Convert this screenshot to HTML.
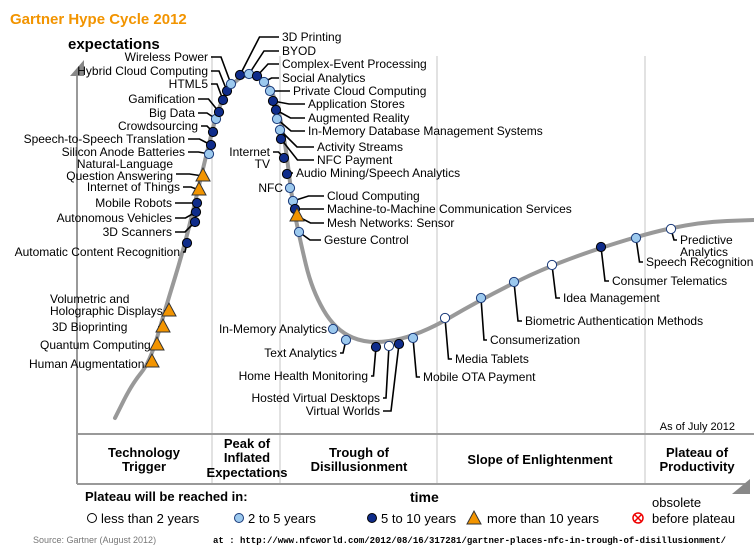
<!DOCTYPE html>
<html><head><meta charset="utf-8"><style>
body{margin:0;background:#fff;}
svg{display:block;font-family:"Liberation Sans",Arial,sans-serif;}
</style></head><body>
<svg id="c" width="754" height="556" viewBox="0 0 754 556">
<text x="10" y="24" font-size="15" font-weight="bold" fill="#f29400">Gartner Hype Cycle 2012</text>
<text x="68" y="49" font-size="15" font-weight="bold">expectations</text>
<line x1="77" y1="74" x2="77" y2="434" stroke="#999" stroke-width="2"/>
<polygon points="70,76 84,76 84,60" fill="#888"/>
<g stroke="#d8d8d8" stroke-width="1.5">
<line x1="212" y1="56" x2="212" y2="434"/><line x1="280" y1="56" x2="280" y2="434"/><line x1="437" y1="56" x2="437" y2="434"/><line x1="645" y1="56" x2="645" y2="434"/>
<line x1="212" y1="434" x2="212" y2="483"/><line x1="280" y1="434" x2="280" y2="483"/><line x1="437" y1="434" x2="437" y2="483"/><line x1="645" y1="434" x2="645" y2="483"/>
</g>
<line x1="77" y1="434" x2="754" y2="434" stroke="#999" stroke-width="2"/>
<line x1="77" y1="434" x2="77" y2="484" stroke="#999" stroke-width="2"/>
<line x1="77" y1="484" x2="745" y2="484" stroke="#999" stroke-width="2"/>
<polygon points="732,494 750,494 750,479" fill="#888"/>
<text x="735" y="430" font-size="11" text-anchor="end">As of July 2012</text>
<g font-size="13" font-weight="bold" text-anchor="middle">
<text x="144" y="457">Technology</text><text x="144" y="471">Trigger</text>
<text x="247" y="448">Peak of</text><text x="247" y="462">Inflated</text><text x="247" y="477">Expectations</text>
<text x="359" y="457">Trough of</text><text x="359" y="471">Disillusionment</text>
<text x="540" y="464">Slope of Enlightenment</text>
<text x="697" y="457">Plateau of</text><text x="697" y="471">Productivity</text>
</g>
<text x="85" y="501" font-size="13" font-weight="bold">Plateau will be reached in:</text>
<text x="410" y="502" font-size="14" font-weight="bold">time</text>
<g font-size="13">
<g><circle cx="92" cy="518" r="4.5" fill="#fff" stroke="#000"/><text x="101" y="523">less than 2 years</text></g>
<g><circle cx="239" cy="518" r="4.5" fill="#9cc9ee" stroke="#1a3a7a"/><text x="248" y="523">2 to 5 years</text></g>
<g><circle cx="372" cy="518" r="4.5" fill="#0f2c8a" stroke="#000"/><text x="381" y="523">5 to 10 years</text></g>
<g><polygon points="467,524 481,524 474,511" fill="#f29400" stroke="#333"/><text x="487" y="523">more than 10 years</text></g>
<g><circle cx="638" cy="518" r="5" fill="#fff" stroke="#e00" stroke-width="1.5"/><path d="M635,515 L641,521 M641,515 L635,521" stroke="#e00" stroke-width="1.5"/><text x="652" y="507">obsolete</text><text x="652" y="523">before plateau</text></g>
</g>
<text x="33" y="543" font-size="9" fill="#777">Source: Gartner (August 2012)</text>
<text x="213" y="543" font-size="9" font-weight="bold" font-family="Liberation Mono,monospace">at : http://www.nfcworld.com/2012/08/16/317281/gartner-places-nfc-in-trough-of-disillusionment/</text>
<g id="plot"></g>
</svg>
<script>
// time (px offset from axis) and expectation (px above baseline)
const curveT=[38,55,73,88,108,128,143,163,183,198,208,215,223,235,258,293,343,403,473,563,623,677];
const curveE=[16,50,72,124,189,274,334,359,359,339,294,234,194,144,104,89,99,134,169,199,212,214];
const names=["Human Augmentation","Quantum Computing","3D Bioprinting","Volumetric and Holographic Displays","Automatic Content Recognition","3D Scanners","Autonomous Vehicles","Mobile Robots","Internet of Things","Natural-Language Question Answering","Silicon Anode Batteries","Speech-to-Speech Translation","Crowdsourcing","Big Data","Gamification","HTML5","Hybrid Cloud Computing","Wireless Power","3D Printing","BYOD","Complex-Event Processing","Social Analytics","Private Cloud Computing","Application Stores","Augmented Reality","In-Memory Database Management Systems","Activity Streams","NFC Payment","Internet TV","Audio Mining/Speech Analytics","NFC","Cloud Computing","Machine-to-Machine Communication Services","Mesh Networks: Sensor","Gesture Control","In-Memory Analytics","Text Analytics","Home Health Monitoring","Hosted Virtual Desktops","Virtual Worlds","Mobile OTA Payment","Media Tablets","Consumerization","Biometric Authentication Methods","Idea Management","Consumer Telematics","Speech Recognition","Predictive Analytics"];
const timeVals=[75,80,86,92,110,118,119,120,122,126,132,134,136,139,142,146,150,154,163,172,180,187,193,196,199,200,203,204,207,210,213,216,218,220,222,256,269,299,312,322,336,368,404,437,475,524,559,594];
const expVals=[72,89,107,123,191,212,222,231,244,258,280,289,302,315,322,334,343,350,359,360,358,352,343,333,324,315,304,295,276,260,246,233,225,218,202,105,94,87,88,90,96,116,136,152,169,187,196,205];
const phase=["t","t","t","t","d","d","d","d","t","t","l","d","d","l","d","d","d","l","d","l","d","l","l","d","d","l","l","d","d","d","l","l","d","t","l","l","l","d","w","d","l","w","l","l","w","d","l","w"];
// label layout: [x, y, anchor, line2, leaderX, leaderY]
const lab=[[29,368,"start",null,146,364],[40,349,"start",null,153,345],[52,331,"start",null,158,327],[50,303,"start","Holographic Displays",164,311],[180,256,"end"],[172,236,"end"],[172,222,"end"],[172,207,"end"],[180,191,"end"],[173,168,"end","Question Answering"],[185,156,"end"],[185,143,"end"],[198,130,"end"],[195,117,"end"],[195,103,"end"],[208,88,"end"],[208,75,"end"],[208,61,"end"],[282,41,"start"],[282,55,"start"],[282,68,"start"],[282,82,"start"],[293,95,"start"],[308,108,"start"],[308,122,"start"],[308,135,"start"],[317,151,"start"],[317,164,"start"],[270,156,"end","TV"],[296,177,"start"],[283,192,"end"],[327,200,"start"],[327,213,"start"],[327,227,"start"],[324,244,"start"],[327,333,"end"],[337,357,"end"],[368,380,"end"],[380,402,"end"],[380,415,"end"],[423,381,"start"],[455,363,"start"],[490,344,"start"],[525,325,"start"],[563,302,"start"],[612,285,"start"],[646,266,"start"],[680,244,"start","Analytics"]];
const xS=t=>77+t, yS=e=>434-e;
const NS="http://www.w3.org/2000/svg";
const g=document.getElementById('plot');
function mk(tag,a,p){const e=document.createElementNS(NS,tag);for(const k in a)e.setAttribute(k,a[k]);(p||g).appendChild(e);return e;}
let d="";
for(let i=0;i<curveT.length;i++){const x=xS(curveT[i]),y=yS(curveE[i]);
 if(i==0)d="M"+x+","+y;else{const px=xS(curveT[i-1]),py=yS(curveE[i-1]);d+=" Q"+px+","+py+" "+((px+x)/2)+","+((py+y)/2);}}
d+=" L"+xS(curveT[curveT.length-1])+","+yS(curveE[curveE.length-1]);
const cv=mk('path',{d:d,fill:"none",stroke:"#999","stroke-width":4,"stroke-linecap":"round"});


const lines=mk('g',{stroke:"#000","stroke-width":1.6,fill:"none"});
const texts=mk('g',{"font-size":12});
for(let i=0;i<names.length;i++){
 const x=xS(timeVals[i]),y=yS(expVals[i]);const L=lab[i];
 let lx=L[2]=="end"?L[0]+3:L[0]-3, ly=L[3]&&L[2]=="end"&&i!=28?L[1]+6:L[1]-4;
 if(L[4]!==undefined){lx=L[4];ly=L[5];}
 const ln=mk('polyline',{points:lx+","+ly+" "+((lx+x)/2)+","+ly+" "+x+","+y},lines);
 
 
 const t=mk('text',{x:L[0],y:L[1],"text-anchor":L[2]},texts);
 t.textContent=L[3]&&i!=3&&i!=47?names[i].replace(" "+L[3],""):(i==3?"Volumetric and":(i==47?"Predictive":names[i]));
 
 
 if(L[3]){const t2=mk('text',{x:L[0],y:L[1]+12,"text-anchor":L[2]},texts);t2.textContent=L[3];
  
  }
}
for(let i=0;i<names.length;i++){
 const x=xS(timeVals[i]),y=yS(expVals[i]);let m;
 if(phase[i]=="t")m=mk('polygon',{points:(x-7)+","+(y+5)+" "+(x+7)+","+(y+5)+" "+x+","+(y-8),fill:"#f29400",stroke:"#333"});
 else m=mk('circle',{cx:x,cy:y,r:4.6,fill:phase[i]=="d"?"#0f2c8a":phase[i]=="l"?"#9cc9ee":"#fff",stroke:phase[i]=="d"?"#000":"#1a3a7a"});
 
 
}
</script>
</body></html>
